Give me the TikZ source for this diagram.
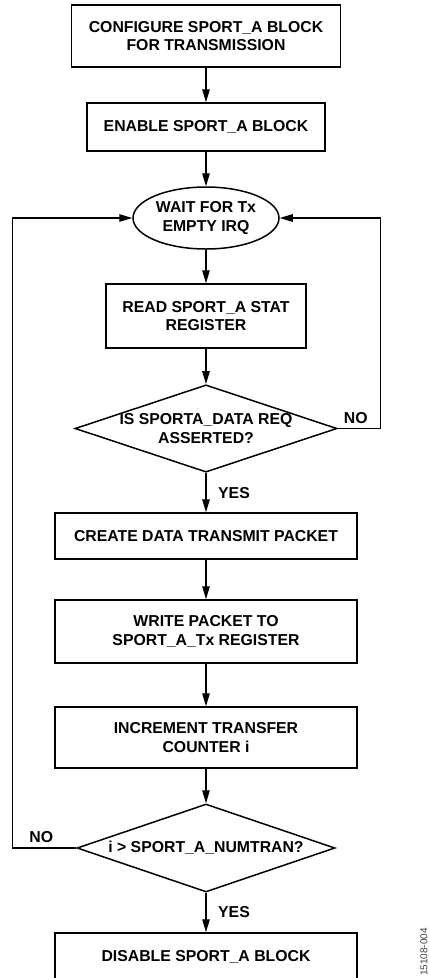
\documentclass[tikz,border=0pt]{standalone}
\usepackage{fontspec}
\setmainfont{Liberation Sans}
\usetikzlibrary{shapes.geometric,arrows.meta}

\begin{document}
\begin{tikzpicture}[x=1pt,y=-1pt,
	every node/.style={font=\fontsize{15.8}{18.5}\selectfont\bfseries, align=center, inner sep=0pt},
	block/.style={draw, rectangle, line width = 1.5pt},
	decision/.style={draw, diamond, line width = 1.5pt, aspect=3},
	flow/.style={line width = 1.2pt, -{Triangle[length=13pt,width=7.5pt]}}]
	
	\useasboundingbox (0,0) rectangle (429,978);
	\clip (0,0) rectangle (429,978);
	
	\node[block, minimum width=269pt, minimum height=62pt] (config) at (206,36) {CONFIGURE SPORT\_A BLOCK\\FOR TRANSMISSION};
	\node[block, minimum width=238pt, minimum height=48pt] (enable) at (206,127) {ENABLE SPORT\_A BLOCK};
	\node[draw, ellipse, line width = 1.5pt, minimum width=146pt, minimum height=62pt] (wait) at (206,218) {WAIT FOR Tx\\EMPTY IRQ};
	\node[block, minimum width=200pt, minimum height=64pt] (stat) at (206,316) {READ SPORT\_A STAT\\REGISTER};
	\node[decision, minimum width=257pt, minimum height=87pt] (isreq) at (206,428.5) {IS SPORTA\_DATA REQ\\ASSERTED?};
	\node[block, minimum width=302pt, minimum height=46pt] (packet) at (206,536) {CREATE DATA TRANSMIT PACKET};
	\node[block, minimum width=302pt, minimum height=63pt] (write) at (206,631.5) {WRITE PACKET TO\\SPORT\_A\_Tx REGISTER};
	\node[block, minimum width=302pt, minimum height=61pt] (incr) at (206,737.5) {INCREMENT TRANSFER\\COUNTER i};
	\node[decision, minimum width=258pt, minimum height=88pt] (cmp) at (206,848) {i > SPORT\_A\_NUMTRAN?};
	\node[block, minimum width=302pt, minimum height=48pt] (disable) at (206,957) {DISABLE SPORT\_A BLOCK};
	
	% main chain
	\draw[flow] (config) -- (enable);
	\draw[flow] (enable) -- (wait);
	\draw[flow] (wait) -- (stat);
	\draw[flow] (stat) -- (isreq);
	\draw[flow] (isreq) -- (packet);
	\draw[flow] (packet) -- (write);
	\draw[flow] (write) -- (incr);
	\draw[flow] (incr) -- (cmp);
	\draw[flow] (cmp) -- (disable);
	
	% the two loops back to the wait state
	\draw[flow] (isreq.east) -- ++(43,0) |- (wait.east);
	\draw[flow] (cmp.west) -- ++(-64,0) |- (wait.west);
	
	\node[anchor=base west] (no1) at ([xshift=6pt,yshift=5pt]isreq.east) {NO};
	\node[anchor=base west] (no2) at ([xshift=-47pt,yshift=6pt]cmp.west) {NO};
	\node[anchor=base west] (yes1) at ([xshift=12pt,yshift=-26pt]isreq.south) {YES};
	\node[anchor=base west] (yes2) at ([xshift=12pt,yshift=-25pt]cmp.south) {YES};
	
	\node[font=\fontsize{10}{10}\selectfont, text=black!75, rotate=90] (figid) at (424,952) {15108-004};
	
\end{tikzpicture}
\end{document}
